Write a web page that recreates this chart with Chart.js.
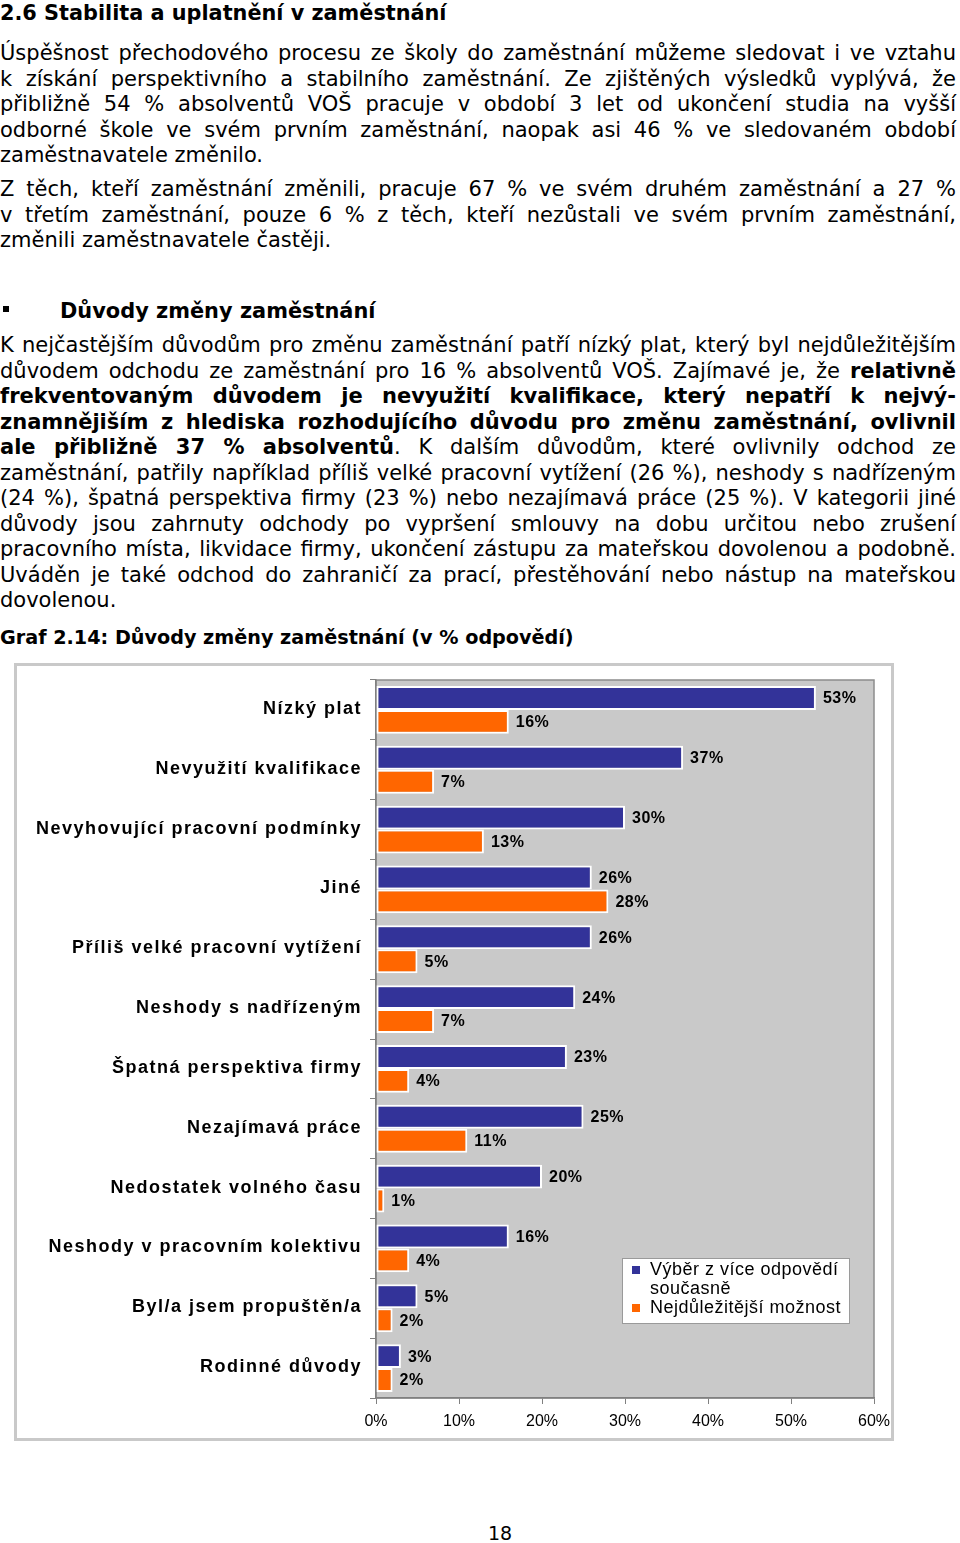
<!DOCTYPE html>
<html><head><meta charset="utf-8">
<script src="https://cdn.jsdelivr.net/npm/chart.js@4.4.0/dist/chart.umd.min.js"></script>
<style>
html,body{margin:0;padding:0;background:#fff;}
#page{position:relative;width:960px;height:1543px;overflow:hidden;font-family:"DejaVu Sans",Verdana,sans-serif;color:#000;}
.blk{position:absolute;left:0;width:956px;font-size:21px;line-height:25.5px;}
.ln{text-align:justify;text-align-last:justify;white-space:normal;}
.ln.last{text-align:left;text-align-last:left;}
.abs{position:absolute;white-space:nowrap;}
#chartBox{position:absolute;left:14px;top:663px;width:880px;height:778px;box-sizing:border-box;border:3px solid #c9c9c9;background:#fff;}
#chartWrap{position:absolute;left:0;top:0;width:883px;height:772px;}
#chartWrap canvas{display:block;}
</style></head>
<body><div id="page">
<div class="abs" style="left:0;top:0;font-size:20.8px;font-weight:bold;line-height:26px;">2.6 Stabilita a uplatnění v zaměstnání</div>

<div class="blk" style="top:41px;">
<div class="ln">Úspěšnost přechodového procesu ze školy do zaměstnání můžeme sledovat i ve vztahu</div>
<div class="ln">k získání perspektivního a stabilního zaměstnání. Ze zjištěných výsledků vyplývá, že</div>
<div class="ln">přibližně 54 % absolventů VOŠ pracuje v období 3 let od ukončení studia na vyšší</div>
<div class="ln">odborné škole ve svém prvním zaměstnání, naopak asi 46 % ve sledovaném období</div>
<div class="ln last">zaměstnavatele změnilo.</div>
</div>

<div class="blk" style="top:177px;">
<div class="ln">Z těch, kteří zaměstnání změnili, pracuje 67 % ve svém druhém zaměstnání a 27 %</div>
<div class="ln">v třetím zaměstnání, pouze 6 % z těch, kteří nezůstali ve svém prvním zaměstnání,</div>
<div class="ln last">změnili zaměstnavatele častěji.</div>
</div>

<div class="abs" style="left:3px;top:306px;width:6px;height:6px;background:#000;"></div>
<div class="abs" style="left:60px;top:298px;font-size:20.9px;font-weight:bold;line-height:26px;">Důvody změny zaměstnání</div>

<div class="blk" style="top:333px;">
<div class="ln">K nejčastějším důvodům pro změnu zaměstnání patří nízký plat, který byl nejdůležitějším</div>
<div class="ln">důvodem odchodu ze zaměstnání pro 16 % absolventů VOŠ. Zajímavé je, že <b>relativně</b></div>
<div class="ln"><b>frekventovaným důvodem je nevyužití kvalifikace, který nepatří k nejvý-</b></div>
<div class="ln"><b>znamnějiším z hlediska rozhodujícího důvodu pro změnu zaměstnání, ovlivnil</b></div>
<div class="ln"><b>ale přibližně 37 % absolventů</b>. K dalším důvodům, které ovlivnily odchod ze</div>
<div class="ln">zaměstnání, patřily například příliš velké pracovní vytížení (26 %), neshody s nadřízeným</div>
<div class="ln">(24 %), špatná perspektiva firmy (23 %) nebo nezajímavá práce (25 %). V kategorii jiné</div>
<div class="ln">důvody jsou zahrnuty odchody po vypršení smlouvy na dobu určitou nebo zrušení</div>
<div class="ln">pracovního místa, likvidace firmy, ukončení zástupu za mateřskou dovolenou a podobně.</div>
<div class="ln">Uváděn je také odchod do zahraničí za prací, přestěhování nebo nástup na mateřskou</div>
<div class="ln last">dovolenou.</div>
</div>

<div class="abs" style="left:0;top:625px;font-size:19.2px;font-weight:bold;line-height:26px;">Graf 2.14: Důvody změny zaměstnání (v % odpovědí)</div>

<div id="chartBox"><div id="chartWrap"><canvas id="c"></canvas></div></div>

<div class="abs" style="left:470px;top:1520px;width:60px;text-align:center;font-size:19px;line-height:26px;">18</div>
</div>

<script>
const categories = ['Nízký plat','Nevyužití kvalifikace','Nevyhovující pracovní podmínky','Jiné','Příliš velké pracovní vytížení','Neshody s nadřízeným','Špatná perspektiva firmy','Nezajímavá práce','Nedostatek volného času','Neshody v pracovním kolektivu','Byl/a jsem propuštěn/a','Rodinné důvody'];
const multiChoice = [53,37,30,26,26,24,23,25,20,16,5,3];
const mostImportant = [16,7,13,28,5,7,4,11,1,4,2,2];
const seriesLabels = ['Výběr z více odpovědí současně','Nejdůležitější možnost'];
const xTicks = [0,10,20,30,40,50,60];

// fit justified lines
document.querySelectorAll('.ln').forEach(el=>{
  const s=document.createElement('span');
  s.style.whiteSpace='nowrap'; s.style.position='absolute'; s.style.visibility='hidden';
  s.style.fontFamily='"DejaVu Sans"'; s.style.fontSize='21px';
  s.innerHTML=el.innerHTML; document.body.appendChild(s);
  const w=s.getBoundingClientRect().width; s.remove();
  if(w>954){ el.style.letterSpacing=((954-w)/el.textContent.length)+'px'; }
});

const FONT='"Liberation Sans", Arial, sans-serif';

const plotBg = {
  id:'plotBg',
  beforeDraw(chart){
    const {ctx, chartArea:a}=chart;
    ctx.save();
    ctx.fillStyle='#c9c9c9';
    ctx.fillRect(a.left,a.top,a.right-a.left,a.bottom-a.top);
    ctx.strokeStyle='#8c8c8c'; ctx.lineWidth=1.5;
    ctx.strokeRect(a.left,a.top,a.right-a.left,a.bottom-a.top);
    ctx.restore();
  }
};

const labelsPlugin = {
  id:'labelsPlugin',
  afterDatasetsDraw(chart){
    const {ctx}=chart;
    ctx.save();
    ctx.font='bold 16px '+FONT; ctx.fillStyle='#000';
    ctx.textAlign='left'; ctx.textBaseline='middle';
    ctx.letterSpacing='0.5px';
    chart.data.datasets.forEach((ds,di)=>{
      chart.getDatasetMeta(di).data.forEach((el,i)=>{
        ctx.fillText(ds.data[i]+'%', el.x+7, el.y+1);
      });
    });
    const ys=chart.scales.y;
    ctx.font='bold 18px '+FONT; ctx.textAlign='right'; ctx.letterSpacing='1.5px';
    categories.forEach((c,i)=>{
      ctx.fillText(c, chart.chartArea.left-14, ys.getPixelForValue(i)-1);
    });
    ctx.restore();
  },
  afterDraw(chart){
    const {ctx, chartArea:a}=chart;
    const bx=a.right-252, by=a.bottom-140, bw=227, bh=65;
    ctx.save();
    ctx.fillStyle='#fff'; ctx.fillRect(bx,by,bw,bh);
    ctx.strokeStyle='#9a9a9a'; ctx.lineWidth=1; ctx.strokeRect(bx+0.5,by+0.5,bw,bh);
    ctx.font='18px '+FONT; ctx.textBaseline='middle'; ctx.textAlign='left'; ctx.letterSpacing='0.5px';
    let ly=by+12;
    chart.data.datasets.forEach((ds,di)=>{
      const words=ds.label.split(' '); const lines=[]; let cur='';
      words.forEach(w=>{ const t=cur?cur+' '+w:w; if(ctx.measureText(t).width>200 && cur){lines.push(cur);cur=w;} else cur=t; });
      lines.push(cur);
      ctx.fillStyle=ds.backgroundColor; ctx.fillRect(bx+10, ly-4, 8, 8);
      ctx.fillStyle='#000';
      lines.forEach((ln,k)=>{ ctx.fillText(ln, bx+28, ly+k*19); });
      ly+=lines.length*19;
    });
    ctx.restore();
  }
};

new Chart(document.getElementById('c'),{
  type:'bar',
  data:{
    labels:categories,
    datasets:[
      {label:seriesLabels[0],data:multiChoice,backgroundColor:'#333399',borderColor:'#ffffff',borderWidth:2,borderSkipped:false,barPercentage:1,categoryPercentage:0.8},
      {label:seriesLabels[1],data:mostImportant,backgroundColor:'#ff6600',borderColor:'#ffffff',borderWidth:2,borderSkipped:false,barPercentage:1,categoryPercentage:0.8}
    ]
  },
  options:{
    indexAxis:'y',
    responsive:true, maintainAspectRatio:false, animation:false,
    layout:{padding:{top:14,right:26,bottom:0,left:0}},
    plugins:{legend:{display:false},tooltip:{enabled:false}},
    scales:{
      x:{
        min:0,max:60,
        afterBuildTicks(s){ s.ticks=xTicks.map(v=>({value:v})); },
        ticks:{callback:v=>v+'%',color:'#000',font:{family:FONT,size:16},padding:8,maxRotation:0},
        grid:{drawOnChartArea:false,drawTicks:true,tickLength:6,color:'#808080'},
        border:{display:true,color:'#808080',width:1.5},
        afterFit(s){ s.height=40; }
      },
      y:{
        ticks:{display:false},
        grid:{drawOnChartArea:false,drawTicks:true,tickLength:6,color:'#808080',offset:true},
        border:{display:true,color:'#808080',width:1.5},
        afterFit(s){ s.width=359; }
      }
    }
  },
  plugins:[plotBg,labelsPlugin]
});
</script>
</body></html>
